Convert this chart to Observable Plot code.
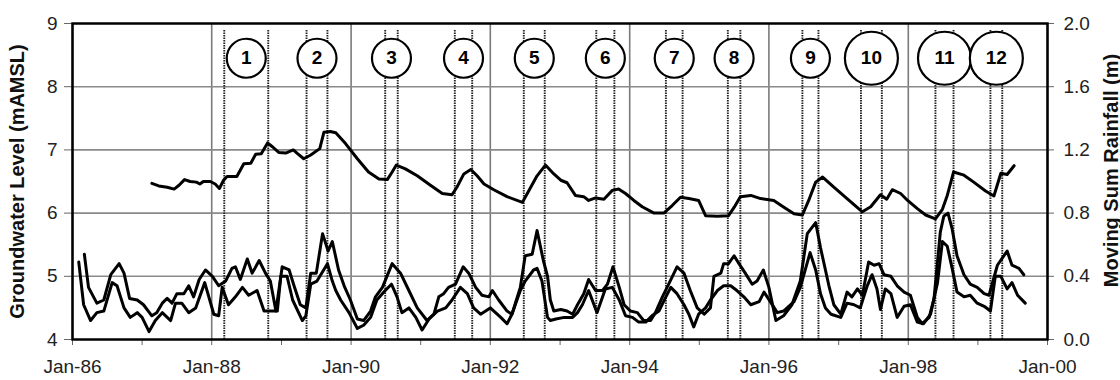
<!DOCTYPE html>
<html>
<head>
<meta charset="utf-8">
<script src="https://cdn.jsdelivr.net/npm/d3@7"></script>
<script src="https://cdn.jsdelivr.net/npm/@observablehq/plot@0.6"></script>
<style>
  html, body { margin: 0; padding: 0; background: #fff; }
  #chart svg { display: block; }
</style>
</head>
<body>
<div id="chart"></div>
<script>
// ---- Data ----
const gwYears = [
  1987.14,1987.24,1987.36,1987.46,1987.53,1987.61,1987.69,1987.78,1987.83,1987.88,
  1987.98,1988.05,1988.11,1988.17,1988.22,1988.36,1988.46,1988.56,1988.63,1988.71,
  1988.80,1988.87,1988.96,1989.06,1989.17,1989.23,1989.32,1989.42,1989.55,1989.61,
  1989.70,1989.78,1989.92,1990.09,1990.25,1990.40,1990.52,1990.59,1990.65,1990.78,
  1990.95,1991.14,1991.31,1991.45,1991.52,1991.62,1991.72,1991.81,1991.91,1992.05,
  1992.24,1992.46,1992.53,1992.67,1992.79,1992.91,1993.01,1993.10,1993.22,1993.34,
  1993.41,1993.51,1993.63,1993.75,1993.84,1993.94,1994.06,1994.18,1994.35,1994.49,
  1994.61,1994.73,1994.85,1994.99,1995.09,1995.26,1995.42,1995.50,1995.59,1995.74,
  1995.88,1996.07,1996.22,1996.36,1996.48,1996.57,1996.67,1996.77,1996.93,1997.12,
  1997.34,1997.46,1997.60,1997.69,1997.77,1997.89,1997.99,1998.13,1998.25,1998.39,
  1998.49,1998.56,1998.65,1998.80,1998.94,1999.11,1999.23,1999.33,1999.42,1999.52
];
const gwLevels = [
  6.47,6.43,6.41,6.38,6.44,6.53,6.50,6.49,6.46,6.50,
  6.50,6.46,6.39,6.52,6.58,6.58,6.78,6.79,6.93,6.94,
  7.11,7.05,6.96,6.95,7.00,6.94,6.86,6.92,7.02,7.28,
  7.29,7.27,7.10,6.86,6.65,6.54,6.53,6.65,6.76,6.70,
  6.59,6.44,6.31,6.29,6.41,6.62,6.69,6.59,6.46,6.37,
  6.26,6.17,6.31,6.59,6.76,6.62,6.52,6.48,6.28,6.26,
  6.20,6.24,6.22,6.36,6.38,6.31,6.20,6.10,6.00,6.00,
  6.12,6.25,6.23,6.20,5.96,5.95,5.96,6.09,6.26,6.28,
  6.23,6.20,6.09,5.99,5.97,6.20,6.49,6.57,6.41,6.23,
  6.02,6.10,6.29,6.22,6.37,6.31,6.20,6.07,5.97,5.91,
  6.06,6.28,6.65,6.60,6.49,6.35,6.27,6.63,6.61,6.75
];

const rainAYears = [
  1986.17,1986.23,1986.35,1986.45,1986.55,1986.67,1986.74,1986.82,1986.93,1987.02,
  1987.14,1987.21,1987.29,1987.36,1987.43,1987.50,1987.60,1987.67,1987.74,1987.82,
  1987.91,1988.01,1988.10,1988.20,1988.29,1988.34,1988.41,1988.51,1988.58,1988.68,
  1988.77,1988.84,1988.92,1989.01,1989.11,1989.18,1989.27,1989.35,1989.42,1989.50,
  1989.59,1989.67,1989.73,1989.82,1989.90,1989.99,1990.09,1990.18,1990.28,1990.35,
  1990.45,1990.59,1990.71,1990.83,1990.95,1991.09,1991.19,1991.26,1991.33,1991.40,
  1991.50,1991.61,1991.69,1991.79,1991.88,1991.98,1992.03,1992.12,1992.24,1992.31,
  1992.43,1992.50,1992.60,1992.67,1992.76,1992.82,1992.86,1992.91,1993.01,1993.10,
  1993.18,1993.25,1993.34,1993.41,1993.51,1993.61,1993.68,1993.76,1993.85,1993.92,
  1994.01,1994.11,1994.20,1994.30,1994.37,1994.47,1994.56,1994.68,1994.78,1994.87,
  1994.97,1995.07,1995.16,1995.21,1995.31,1995.35,1995.42,1995.50,1995.57,1995.66,
  1995.76,1995.83,1995.92,1996.00,1996.10,1996.21,1996.33,1996.45,1996.55,1996.67,
  1996.74,1996.81,1996.86,1996.93,1997.03,1997.12,1997.19,1997.27,1997.34,1997.43,
  1997.51,1997.58,1997.65,1997.75,1997.84,1997.94,1998.03,1998.13,1998.20,1998.30,
  1998.37,1998.46,1998.51,1998.57,1998.63,1998.70,1998.80,1998.89,1998.99,1999.09,
  1999.16,1999.28,1999.42,1999.49,1999.59,1999.66
];
const rainA = [
  0.54,0.33,0.23,0.25,0.41,0.48,0.42,0.26,0.25,0.22,
  0.15,0.17,0.23,0.26,0.23,0.29,0.29,0.34,0.27,0.38,
  0.44,0.40,0.34,0.37,0.45,0.46,0.38,0.51,0.42,0.50,
  0.42,0.37,0.18,0.46,0.44,0.34,0.22,0.20,0.42,0.42,
  0.67,0.56,0.62,0.44,0.34,0.25,0.13,0.12,0.18,0.27,
  0.33,0.48,0.42,0.31,0.20,0.12,0.16,0.27,0.29,0.33,
  0.35,0.46,0.42,0.33,0.28,0.27,0.31,0.25,0.18,0.16,
  0.33,0.53,0.54,0.69,0.50,0.40,0.25,0.18,0.19,0.18,
  0.16,0.22,0.29,0.38,0.31,0.31,0.35,0.46,0.33,0.22,
  0.18,0.17,0.12,0.12,0.17,0.27,0.35,0.46,0.42,0.31,
  0.20,0.16,0.20,0.40,0.42,0.48,0.48,0.53,0.48,0.42,
  0.35,0.37,0.44,0.33,0.12,0.15,0.22,0.37,0.67,0.74,
  0.58,0.44,0.34,0.22,0.16,0.30,0.27,0.32,0.28,0.49,
  0.47,0.48,0.41,0.40,0.34,0.30,0.28,0.14,0.10,0.14,
  0.26,0.68,0.78,0.80,0.70,0.53,0.41,0.35,0.33,0.29,
  0.28,0.47,0.56,0.47,0.45,0.41
];

const rainBYears = [
  1986.09,1986.16,1986.26,1986.35,1986.45,1986.57,1986.64,1986.74,1986.83,1986.93,
  1987.00,1987.10,1987.19,1987.29,1987.41,1987.48,1987.57,1987.67,1987.77,1987.90,
  1988.03,1988.10,1988.15,1988.24,1988.34,1988.44,1988.53,1988.65,1988.75,1988.84,
  1988.94,1988.99,1989.08,1989.16,1989.30,1989.35,1989.42,1989.51,1989.66,1989.73,
  1989.78,1989.85,1989.97,1990.09,1990.18,1990.28,1990.37,1990.49,1990.58,1990.66,
  1990.73,1990.83,1990.93,1991.02,1991.12,1991.24,1991.36,1991.45,1991.57,1991.67,
  1991.76,1991.86,1992.00,1992.15,1992.24,1992.31,1992.43,1992.50,1992.62,1992.67,
  1992.74,1992.82,1992.86,1992.94,1993.06,1993.18,1993.25,1993.32,1993.41,1993.53,
  1993.65,1993.75,1993.85,1993.94,1994.04,1994.13,1994.23,1994.32,1994.42,1994.52,
  1994.59,1994.68,1994.78,1994.85,1994.92,1994.99,1995.09,1995.16,1995.26,1995.35,
  1995.45,1995.54,1995.64,1995.74,1995.86,1995.93,1996.02,1996.12,1996.21,1996.36,
  1996.45,1996.59,1996.67,1996.74,1996.81,1996.89,1997.03,1997.12,1997.22,1997.31,
  1997.41,1997.48,1997.55,1997.60,1997.67,1997.75,1997.84,1997.94,1998.03,1998.13,
  1998.22,1998.32,1998.42,1998.49,1998.56,1998.63,1998.70,1998.80,1998.89,1998.99,
  1999.09,1999.18,1999.25,1999.33,1999.42,1999.49,1999.57,1999.68
];
const rainB = [
  0.49,0.22,0.12,0.17,0.18,0.36,0.34,0.20,0.14,0.17,
  0.14,0.05,0.12,0.17,0.12,0.23,0.23,0.17,0.20,0.36,
  0.16,0.15,0.33,0.22,0.27,0.33,0.28,0.31,0.18,0.18,
  0.18,0.40,0.40,0.25,0.12,0.15,0.35,0.37,0.48,0.37,
  0.31,0.25,0.17,0.07,0.09,0.14,0.25,0.31,0.35,0.27,
  0.17,0.20,0.14,0.06,0.13,0.18,0.20,0.25,0.33,0.29,
  0.20,0.16,0.20,0.14,0.10,0.16,0.31,0.37,0.44,0.45,
  0.37,0.14,0.12,0.13,0.14,0.14,0.17,0.22,0.31,0.17,
  0.32,0.33,0.25,0.15,0.14,0.11,0.11,0.15,0.18,0.27,
  0.33,0.29,0.22,0.16,0.08,0.16,0.20,0.25,0.31,0.34,
  0.34,0.31,0.27,0.22,0.24,0.30,0.24,0.17,0.18,0.24,
  0.33,0.55,0.44,0.29,0.20,0.16,0.14,0.23,0.22,0.20,
  0.34,0.41,0.32,0.19,0.32,0.29,0.14,0.21,0.22,0.11,
  0.10,0.16,0.36,0.62,0.59,0.45,0.30,0.27,0.28,0.23,
  0.21,0.18,0.40,0.40,0.32,0.36,0.28,0.23
];

const eventLabels = ["1","2","3","4","5","6","7","8","9","10","11","12"];
const eventStart = [1988.18,1989.36,1990.49,1991.49,1992.48,1993.52,1994.52,1995.41,1996.48,1997.32,1998.39,1999.18];
const eventEnd   = [1988.81,1989.66,1990.67,1991.74,1992.78,1993.78,1994.76,1995.59,1996.71,1997.62,1998.65,1999.35];

const allTickYears = [1986,1987,1988,1989,1990,1991,1992,1993,1994,1995,1996,1997,1998,1999,2000];
const labelYears = [1986,1988,1990,1992,1994,1996,1998,2000];
const levelTicks = [4,5,6,7,8,9];
const rainTicks = [0.0,0.4,0.8,1.2,1.6,2.0];

const leftTitle = "Groundwater Level (mAMSL)";
const rightTitle = "Moving Sum Rainfall (m)";

// ---- Helpers ----
const toDate = y => {
  const Y = Math.floor(y);
  const a = Date.UTC(Y, 0, 1), b = Date.UTC(Y + 1, 0, 1);
  return new Date(a + (y - Y) * (b - a));
};
const rainToLevel = r => 4 + r * 2.5;     // 0..2.0 m  <->  4..9 mAMSL
const levelToRain = v => (v - 4) / 2.5;

const gw = gwYears.map((y, i) => ({date: toDate(y), value: gwLevels[i]}));
const ra = rainAYears.map((y, i) => ({date: toDate(y), value: rainA[i]}));
const rb = rainBYears.map((y, i) => ({date: toDate(y), value: rainB[i]}));
const events = eventLabels.map((label, i) => ({
  label,
  start: toDate(eventStart[i]),
  end: toDate(eventEnd[i]),
  mid: toDate((eventStart[i] + eventEnd[i]) / 2)
}));

const fmt = d3.utcFormat("%b-%y");
const font = "'Liberation Sans', Arial, Helvetica, sans-serif";

const chart = Plot.plot({
  width: 1120,
  height: 380,
  marginLeft: 72,
  marginRight: 73,
  marginTop: 23,
  marginBottom: 41,
  style: {fontFamily: font, background: "#fff", color: "#222", overflow: "visible"},
  x: {type: "utc", domain: [toDate(1986), toDate(2000)]},
  y: {domain: [4, 9]},
  r: {type: "identity"},
  marks: [
    Plot.gridX(labelYears.map(toDate), {stroke: "#7a7a7a", strokeOpacity: 1, strokeWidth: 1.6}),
    Plot.gridY(levelTicks.slice(1, -1), {stroke: "#8a8a8a", strokeOpacity: 1, strokeWidth: 1.6}),
    Plot.ruleX(events, {x: "start", y1: 4, y2: 8.9, stroke: "#222", strokeWidth: 1.9, strokeDasharray: "1.4,1.1"}),
    Plot.ruleX(events, {x: "end", y1: 4, y2: 8.9, stroke: "#222", strokeWidth: 1.9, strokeDasharray: "1.4,1.1"}),
    Plot.line(ra, {x: "date", y: d => rainToLevel(d.value), stroke: "#000", strokeWidth: 3, strokeLinejoin: "round"}),
    Plot.line(rb, {x: "date", y: d => rainToLevel(d.value), stroke: "#000", strokeWidth: 3, strokeLinejoin: "round"}),
    Plot.line(gw, {x: "date", y: "value", stroke: "#000", strokeWidth: 3, strokeLinejoin: "round"}),
    Plot.dot(events, {x: "mid", y: () => 8.45, r: d => d.label.length > 1 ? 26.5 : 19.5, fill: "#fff", stroke: "#000", strokeWidth: 2.2}),
    Plot.text(events, {x: "mid", y: () => 8.45, text: "label", fontSize: 19, fontWeight: "bold", fill: "#000"}),
    Plot.axisX(allTickYears.map(toDate), {
      tickSize: 6, tickPadding: 14, fontSize: 19, stroke: "#666", fill: "#222", label: null,
      tickFormat: d => (d.getUTCFullYear() % 2 === 0 ? fmt(d) : "")
    }),
    Plot.axisY(levelTicks, {anchor: "left", tickSize: 8, tickPadding: 7, fontSize: 19, stroke: "#666", fill: "#222", label: null,
      tickFormat: v => String(v)
    }),
    Plot.axisY(rainTicks.map(rainToLevel), {
      anchor: "right", tickSize: 6, tickPadding: 10, fontSize: 19, stroke: "#666", fill: "#222", label: null,
      tickFormat: v => levelToRain(v).toFixed(1)
    }),
    Plot.text([leftTitle], {text: d => d, frameAnchor: "left", textAnchor: "middle", dx: -55, rotate: -90, fontSize: 20, fontWeight: "bold", fill: "#111"}),
    Plot.text([rightTitle], {text: d => d, frameAnchor: "right", textAnchor: "middle", dx: 64, dy: -11, rotate: -90, fontSize: 20, fontWeight: "bold", fill: "#111"}),
    Plot.frame({stroke: "#000", strokeWidth: 2.5})
  ]
});

document.getElementById("chart").appendChild(chart);
</script>
</body>
</html>
